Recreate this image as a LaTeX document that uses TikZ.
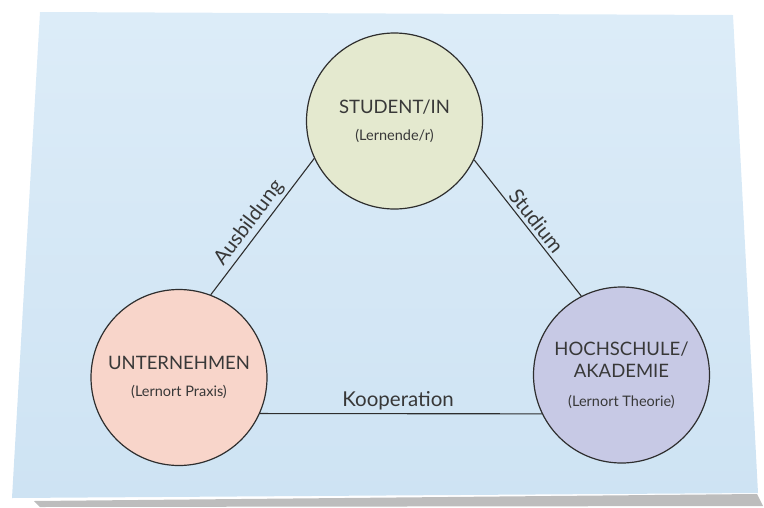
\documentclass[tikz,border=0pt]{standalone}
\usepackage{fontspec}
\setmainfont{Lato}
\usetikzlibrary{positioning}

\definecolor{kartenblauoben}{HTML}{DCECF8}
\definecolor{kartenblauunten}{HTML}{CEE3F3}
\definecolor{studentgruen}{HTML}{E4E9CF}
\definecolor{firmarosa}{HTML}{F8D5CA}
\definecolor{schullila}{HTML}{C7C9E5}
\definecolor{textgrau}{HTML}{383838}
\definecolor{linie}{HTML}{2E2E2E}

\newcommand{\lernort}[1]{{\fontsize{14.5}{16}\selectfont #1}}

\begin{document}
\begin{tikzpicture}[
        x=1pt, y=-1pt,
        every node/.style={text=textgrau},
        rolle/.style={circle, draw=linie, line width=1.2pt, minimum size=176pt,
            inner sep=0pt, align=center, font=\fontsize{18.5}{22}\selectfont},
        beziehung/.style={draw=linie, line width=1.1pt},
        kante/.style={font=\fontsize{20.5}{22}\selectfont, sloped, above, inner sep=3pt}
    ]
        \useasboundingbox (0,0) rectangle (764,507);

        % Karte mit Schatten
        \fill[gray!60, opacity=0.85] (34,501) -- (757,494) -- (763,506) -- (40,507) -- cycle;
        \shade[top color=kartenblauoben, bottom color=kartenblauunten]
            (40,12) -- (733,15) -- (758,493) -- (12,498) -- cycle;

        % Die drei Lernorte
        \node [rolle, fill=studentgruen] (S) at (394.5,121)
            {STUDENT/IN\\[5pt]\lernort{(Lernende/r)}};
        \node [rolle, fill=firmarosa] (U) at (179,377.5)
            {UNTERNEHMEN\\[5pt]\lernort{(Lernort Praxis)}};
        \node [rolle, fill=schullila] (H) at (621.5,375)
            {HOCHSCHULE/\\AKADEMIE\\[7pt]\lernort{(Lernort Theorie)}};

        % Verbindungen
        \draw[beziehung] (U.69) -- node[kante, pos=0.47] {Ausbildung} (S.205);
        \draw[beziehung] (S.334) -- node[kante, pos=0.5] {Studium} (H.117);
        \draw[beziehung] (U.336) -- node[kante, pos=0.49] {Kooperation} (H.206);
    \end{tikzpicture}
\end{document}
